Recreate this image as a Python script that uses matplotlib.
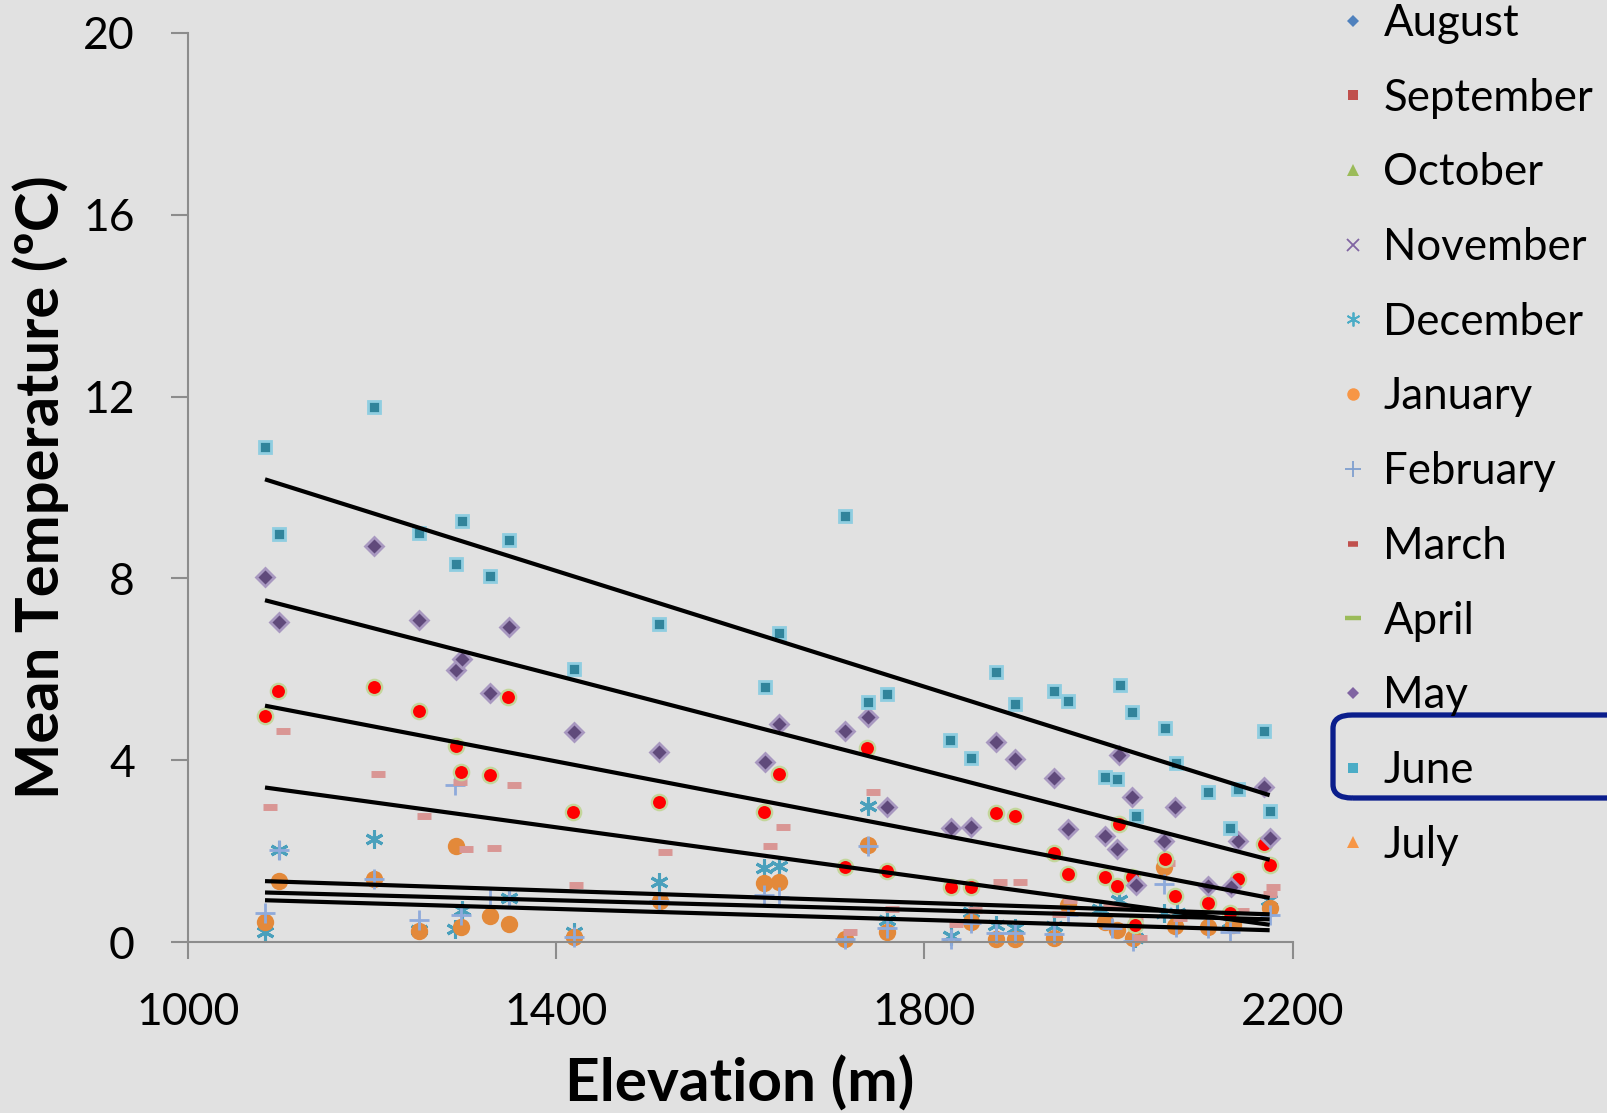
import numpy as np
import matplotlib
matplotlib.use("Agg")
import matplotlib.pyplot as plt
from matplotlib.lines import Line2D
from matplotlib.patches import FancyBboxPatch

plt.rcParams['font.family'] = ['Lato', 'DejaVu Sans']

# elevation (m) / mean temperature (ºC)
june_elev = [1084, 1099, 1202, 1251, 1291, 1298, 1328, 1349, 1420, 1512, 1627, 1642, 1714,
             1739, 1760, 1828, 1851, 1878, 1898, 1941, 1956, 1996, 2009, 2012, 2026, 2030,
             2061, 2073, 2108, 2132, 2141, 2169, 2175]
june_temp = [10.9, 8.97, 11.76, 8.99, 8.31, 9.26, 8.06, 8.85, 6.01, 7.0, 5.6, 6.79, 9.37,
             5.27, 5.46, 4.44, 4.05, 5.95, 5.24, 5.52, 5.30, 3.64, 3.58, 5.65, 5.05, 2.78,
             4.70, 3.93, 3.29, 2.50, 3.36, 4.64, 2.88]

may_elev = [1084, 1099, 1202, 1251, 1291, 1298, 1328, 1349, 1420, 1512, 1627, 1642, 1714,
            1739, 1760, 1829, 1851, 1878, 1898, 1941, 1956, 1996, 2009, 2011, 2026, 2030,
            2060, 2072, 2108, 2133, 2141, 2169, 2175]
may_temp = [8.02, 7.05, 8.72, 7.08, 5.98, 6.22, 5.47, 6.92, 4.61, 4.17, 3.95, 4.79, 4.65,
            4.96, 2.97, 2.50, 2.53, 4.39, 4.02, 3.60, 2.49, 2.34, 2.04, 4.11, 3.18, 1.25,
            2.22, 2.96, 1.24, 1.22, 2.22, 3.42, 2.28]

april_elev = [1084, 1098, 1202, 1251, 1291, 1297, 1328, 1348, 1419, 1512, 1626, 1642, 1714,
              1738, 1760, 1829, 1851, 1878, 1898, 1941, 1956, 1996, 2009, 2011, 2026, 2029,
              2061, 2072, 2108, 2132, 2141, 2169, 2175]
april_temp = [4.98, 5.53, 5.62, 5.08, 4.31, 3.73, 3.67, 5.38, 2.85, 3.09, 2.87, 3.70, 1.66,
              4.26, 1.57, 1.22, 1.22, 2.83, 2.78, 1.95, 1.49, 1.42, 1.24, 2.60, 1.44, 0.37,
              1.82, 1.02, 0.85, 0.63, 1.38, 2.16, 1.69]

march_elev = [1089, 1104, 1207, 1257, 1296, 1302, 1333, 1354, 1422, 1518, 1632, 1647, 1719,
              1744, 1765, 1834, 1855, 1882, 1904, 1946, 1958, 2002, 2014, 2030, 2034, 2065,
              2078, 2145, 2175, 2179]
march_temp = [2.96, 4.65, 3.70, 2.77, 3.51, 2.04, 2.06, 3.45, 1.25, 1.99, 2.12, 2.53, 0.21,
              3.31, 0.72, 0.40, 0.70, 1.31, 1.31, 0.62, 0.92, 0.76, 0.76, 0.52, 0.08, 1.73,
              0.53, 0.68, 1.06, 1.22]

jan_elev = [1084, 1099, 1202, 1251, 1291, 1297, 1328, 1349, 1420, 1513, 1626, 1642, 1714,
            1739, 1760, 1851, 1878, 1898, 1941, 1956, 1996, 2009, 2027, 2060, 2072, 2108,
            2135, 2175]
jan_temp = [0.45, 1.34, 1.38, 0.25, 2.12, 0.32, 0.57, 0.39, 0.12, 0.90, 1.29, 1.31, 0.06,
            2.13, 0.23, 0.45, 0.06, 0.07, 0.08, 0.81, 0.45, 0.26, 0.09, 1.66, 0.36, 0.33,
            0.38, 0.75]

dec_elev = [1084, 1099, 1202, 1251, 1290, 1298, 1349, 1420, 1512, 1626, 1642, 1739, 1760,
            1829, 1851, 1878, 1898, 1941, 1991, 2011, 2029, 2060, 2074, 2132, 2174]
dec_temp = [0.23, 2.03, 2.26, 0.27, 0.28, 0.70, 0.96, 0.23, 1.33, 1.62, 1.68, 3.0, 0.48,
            0.14, 0.67, 0.37, 0.31, 0.35, 0.72, 0.92, 0.08, 0.63, 0.63, 0.45, 0.92]

feb_elev = [1084, 1099, 1202, 1251, 1290, 1297, 1328, 1349, 1420, 1512, 1626, 1642, 1714,
            1739, 1760, 1829, 1851, 1878, 1898, 1941, 1956, 2004, 2027, 2060, 2073, 2108,
            2132, 2175]
feb_temp = [0.63, 2.03, 1.38, 0.48, 3.45, 0.59, 0.96, 0.96, 0.12, 0.90, 1.03, 0.98, 0.06,
            2.12, 0.30, 0.06, 0.41, 0.19, 0.19, 0.17, 0.59, 0.30, 0.02, 1.27, 0.33, 0.31,
            0.23, 0.60]

# linear trend lines (value at first and last station)
trend_elev = [1084, 2175]
trend_start = [10.18, 7.52, 5.20, 3.40, 1.34, 1.09, 0.92]
trend_end = [3.23, 1.81, 0.97, 0.38, 0.61, 0.50, 0.26]

months = ['August', 'September', 'October', 'November', 'December', 'January',
          'February', 'March', 'April', 'May', 'June', 'July']

bg = '#e1e1e1'
fig = plt.figure(figsize=(16.08, 11.13), dpi=100, facecolor=bg)
ax = fig.add_axes([0.1167, 0.1536, 0.6872, 0.8168])
ax.set_facecolor(bg)

ax.plot(dec_elev, dec_temp, ls='none', marker=(6, 2, 0), ms=13, mew=2.2,
        color='#4aa0bc', clip_on=False)
ax.plot(jan_elev, jan_temp, ls='none', marker='o', ms=12.5, mew=0,
        color='#e3893a', clip_on=False)
ax.plot(feb_elev, feb_temp, ls='none', marker='+', ms=15, mew=2.0,
        color='#8eaadb', clip_on=False)
ax.plot(march_elev, march_temp, ls='none', marker='_', ms=9.5, mew=5,
        color='#d99694', clip_on=False)
ax.plot(april_elev, april_temp, ls='none', marker='o', ms=11, mew=1.7,
        mfc='#ff0000', mec='#c3d69b', clip_on=False)
ax.plot(may_elev, may_temp, ls='none', marker='D', ms=9, mew=2,
        mfc='#604a7b', mec='#a898c0', clip_on=False)
ax.plot(june_elev, june_temp, ls='none', marker='s', ms=9, mew=2,
        mfc='#31849b', mec='#8fcde0', clip_on=False)

for y0, y1 in zip(trend_start, trend_end):
    ax.plot(trend_elev, [y0, y1], color='black', lw=3.0, solid_capstyle='butt')

ax.set_xlim(1000, 2200)
ax.set_ylim(0, 20)
ax.set_xticks([1000, 1400, 1800, 2200])
ax.set_yticks([0, 4, 8, 12, 16, 20])
for s in ['top', 'right']:
    ax.spines[s].set_visible(False)
for s in ['left', 'bottom']:
    ax.spines[s].set_color('#8c8c8c')
    ax.spines[s].set_linewidth(1.5)
ax.tick_params(axis='both', direction='out', length=12, width=1.5, color='#8c8c8c',
               labelsize=32, labelcolor='black')
ax.tick_params(axis='x', pad=24)
ax.tick_params(axis='y', pad=26)

ax.set_xlabel('Elevation (m)', fontsize=43.5, fontweight='bold', labelpad=16)
ax.set_ylabel('Mean Temperature (ºC)', fontsize=43, fontweight='bold', labelpad=10)

# legend as in the slide
leg_markers = ['D', 's', '^', 'x', (6, 2, 0), 'o', '+', '_', '_', 'D', 's', '^']
leg_colors = ['#4f81bd', '#c0504d', '#9bbb59', '#8064a2', '#4bacc6', '#f79646',
              '#7f9fcf', '#c0504d', '#9bbb59', '#8064a2', '#4bacc6', '#f79646']
leg_sizes = [6.5, 7.5, 9, 9, 10, 9, 12, 7, 12, 6.5, 7.5, 9]
leg_mew = [0, 0, 0, 1.3, 1.3, 0, 1.3, 4, 3.2, 0, 0, 0]
handles = [Line2D([], [], ls='none', marker=m, color=c, ms=s, mew=w)
           for m, c, s, w in zip(leg_markers, leg_colors, leg_sizes, leg_mew)]
fig.legend(handles, months, loc='upper left', bbox_to_anchor=(0.8304, 1.0 - 3 / 1113),
           frameon=False, fontsize=31.5, labelspacing=0.77, handlelength=0.8,
           handletextpad=0.3, borderpad=0, borderaxespad=0)

box = FancyBboxPatch((1333 / 1608, 1 - 798 / 1113), 300 / 1608, 83 / 1113,
                     boxstyle='round,pad=0,rounding_size=0.012', transform=fig.transFigure,
                     fill=False, edgecolor='#0b1e8c', lw=3.8, clip_on=False)
fig.patches.append(box)

fig.savefig('out.png', dpi=100, facecolor=bg)
